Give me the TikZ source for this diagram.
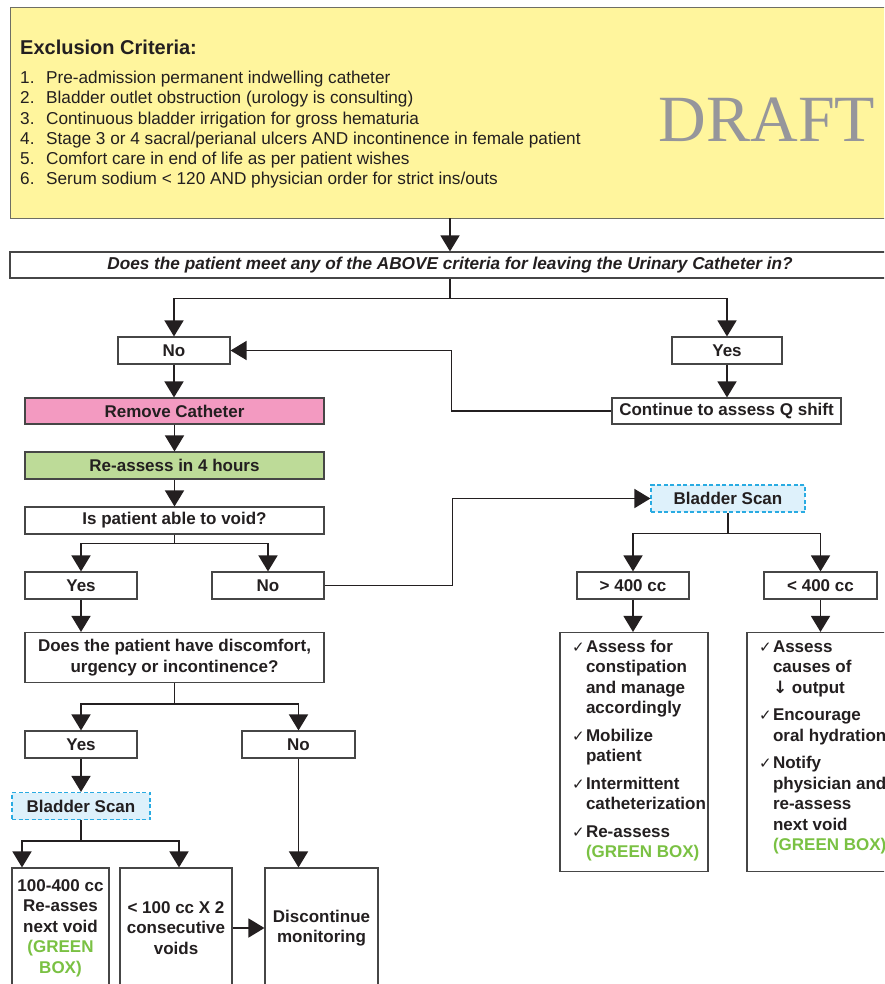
\documentclass[tikz,border=0pt]{standalone}
\usepackage{fontspec}
\setmainfont{Liberation Sans}
\newfontfamily\draftfont{Liberation Serif}
\newfontfamily\symfont{DejaVu Sans}
\usetikzlibrary{arrows.meta}
\definecolor{crityellow}{RGB}{255,245,157}
\definecolor{critedge}{RGB}{110,110,100}
\definecolor{boxgray}{RGB}{70,70,70}
\definecolor{inkblack}{RGB}{35,31,32}
\definecolor{pinkfill}{RGB}{243,154,193}
\definecolor{greenfill}{RGB}{189,219,152}
\definecolor{scanfill}{RGB}{222,241,251}
\definecolor{scanedge}{RGB}{41,171,226}
\definecolor{greentext}{RGB}{122,193,67}
\definecolor{draftgray}{RGB}{150,150,155}
\newcommand\ck{\makebox[14pt][l]{\symfont\fontsize{15}{15}\selectfont ✓}}
\newcommand\gtxt[1]{\textcolor{greentext}{#1}}
\begin{document}
\begin{tikzpicture}[x=1pt,y=-1pt,
  box/.style={draw=boxgray, line width=1.1pt, fill=white, inner sep=0pt,
    text=inkblack, font=\fontsize{17}{20.5}\selectfont\bfseries, align=center},
  scanbox/.style={box, draw=scanedge, fill=scanfill, dash pattern=on 4pt off 2.5pt},
  link/.style={draw=inkblack, line width=1.5pt},
  conn/.style={link, -{Triangle[width=19pt,length=16pt]}}]
\useasboundingbox (0,0) rectangle (884,984);
\begin{scope}
\clip (0,0) rectangle (884,984);
% criteria panel
\node[draw=critedge, line width=0.9pt, fill=crityellow, minimum width=880pt, minimum height=211pt, inner sep=0pt] (crit) at (450,112.5) {};
\node[anchor=west, inner sep=0pt, text=inkblack, font=\fontsize{20}{20}\selectfont\bfseries] (crittitle) at (20,47) {Exclusion Criteria:};
\node[anchor=base west, inner sep=0pt, text=inkblack, font=\fontsize{17.2}{20.3}\selectfont] (critlist) at (20,83.5) {%
\begin{tabular}[t]{@{}l@{}l@{}}
\makebox[26pt][l]{1.} & Pre-admission permanent indwelling catheter\\
\makebox[26pt][l]{2.} & Bladder outlet obstruction (urology is consulting)\\
\makebox[26pt][l]{3.} & Continuous bladder irrigation for gross hematuria\\
\makebox[26pt][l]{4.} & Stage 3 or 4 sacral/perianal ulcers AND incontinence in female patient\\
\makebox[26pt][l]{5.} & Comfort care in end of life as per patient wishes\\
\makebox[26pt][l]{6.} & Serum sodium < 120 AND physician order for strict ins/outs
\end{tabular}};
\node[text=draftgray, inner sep=0pt, font=\draftfont\fontsize{66}{66}\selectfont] (draft) at (767,119.5) {DRAFT};
% question
\node[box, minimum width=880pt, minimum height=26pt, font=\fontsize{17.2}{18}\selectfont\bfseries\itshape] (q) at (450,265) {Does the patient meet any of the ABOVE criteria for leaving the Urinary Catheter in?};
% first branch
\node[box, minimum width=112pt, minimum height=27pt] (no1) at (174,350.5) {No};
\node[box, minimum width=110pt, minimum height=27pt] (yes1) at (727,350.5) {Yes};
\node[box, fill=pinkfill, minimum width=299pt, minimum height=26pt] (remove) at (174.5,411) {Remove Catheter};
\node[box, minimum width=229pt, minimum height=26pt] (cont) at (726.5,411) {Continue to assess Q shift};
\node[box, fill=greenfill, minimum width=299pt, minimum height=27pt] (reassess) at (174.5,465.5) {Re-assess in 4 hours};
\node[box, minimum width=299pt, minimum height=27pt] (void) at (174.5,520.5) {Is patient able to void?};
\node[box, minimum width=112pt, minimum height=27pt] (yes2) at (81,585.5) {Yes};
\node[box, minimum width=112pt, minimum height=27pt] (no2) at (268,585.5) {No};
% right scan
\node[scanbox, minimum width=154pt, minimum height=27pt] (scanR) at (728,498.5) {Bladder Scan};
\node[box, minimum width=112pt, minimum height=27pt] (gt400) at (633,585.5) {> 400 cc};
\node[box, minimum width=113pt, minimum height=27pt] (lt400) at (820.5,585.5) {< 400 cc};
\node[box, minimum width=148pt, minimum height=239pt, align=left] (listA) at (634,752) {%
\parbox[c][239pt][t]{148pt}{\vspace*{5.6pt}\noindent\hspace*{12pt}%
\begin{tabular}[t]{@{}l@{}l@{}}
\ck & Assess for\\ & constipation\\ & and manage\\ & accordingly\\[7pt]
\ck & Mobilize\\ & patient\\[7pt]
\ck & Intermittent\\ & catheterization\\[7pt]
\ck & Re-assess\\ & \gtxt{(GREEN BOX)}
\end{tabular}}};
\node[box, minimum width=148pt, minimum height=239pt, align=left] (listB) at (821,752) {%
\parbox[c][239pt][t]{148pt}{\vspace*{5.6pt}\noindent\hspace*{12pt}%
\begin{tabular}[t]{@{}l@{}l@{}}
\ck & Assess\\ & causes of\\ & {\symfont ↓} output\\[7pt]
\ck & Encourage\\ & oral hydration\\[7pt]
\ck & Notify\\ & physician and\\ & re-assess\\ & next void\\ & \gtxt{(GREEN BOX)}
\end{tabular}}};
% left lower
\node[box, minimum width=299pt, minimum height=50pt] (disc) at (174.5,657.5) {Does the patient have discomfort,\\urgency or incontinence?};
\node[box, minimum width=112pt, minimum height=27pt] (yes3) at (81,744.5) {Yes};
\node[box, minimum width=113pt, minimum height=27pt] (no3) at (298.5,744.5) {No};
\node[scanbox, minimum width=138pt, minimum height=27pt] (scanL) at (81,806) {Bladder Scan};
\node[box, minimum width=97pt, minimum height=120pt] (boxA) at (60.5,928) {100-400 cc\\Re-asses\\next void\\\gtxt{(GREEN}\\\gtxt{BOX)}};
\node[box, minimum width=112pt, minimum height=120pt] (boxB) at (176,928) {< 100 cc X 2\\consecutive\\voids};
\node[box, minimum width=113pt, minimum height=120pt] (boxC) at (321.5,928) {Discontinue\\monitoring};
% connectors
\draw[conn] (crit.south) -- (q.north);
\draw[link] (q.south) -- ++(0,20) coordinate (qb);
\draw[conn] (qb) -| (no1.north);
\draw[conn] (qb) -| (yes1.north);
\draw[conn] (no1.south) -- (remove.north -| no1.south);
\draw[conn] (yes1.south) -- (cont.north -| yes1.south);
\draw[conn] (cont.west) -- ++(-160,0) |- (no1.east);
\draw[conn] (remove.south) -- (reassess.north);
\draw[conn] (reassess.south) -- (void.north);
\draw[link] (void.south) -- ++(0,9) coordinate (vb);
\draw[conn] (vb) -| (yes2.north);
\draw[conn] (vb) -| (no2.north);
\draw[conn] (no2.east) -- ++(128,0) |- (scanR.west);
\draw[link] (scanR.south) -- ++(0,21) coordinate (sr);
\draw[conn] (sr) -| (gt400.north);
\draw[conn] (sr) -| (lt400.north);
\draw[conn] (gt400.south) -- (listA.north -| gt400.south);
\draw[conn] (lt400.south) -- (listB.north -| lt400.south);
\draw[conn] (yes2.south) -- (disc.north -| yes2.south);
\draw[link] (disc.south) -- ++(0,21) coordinate (db);
\draw[conn] (db) -| (yes3.north);
\draw[conn] (db) -| (no3.north);
\draw[conn] (yes3.south) -- (scanL.north);
\draw[link] (scanL.south) -- ++(0,21) coordinate (sl);
\draw[conn] (sl) -| ([xshift=-38.5pt]boxA.north);
\draw[conn] (sl) -| ([xshift=3pt]boxB.north);
\draw[conn] (no3.south) -- (boxC.north -| no3.south);
\draw[conn] (boxB.east) -- (boxC.west);
\end{scope}
\end{tikzpicture}
\end{document}
